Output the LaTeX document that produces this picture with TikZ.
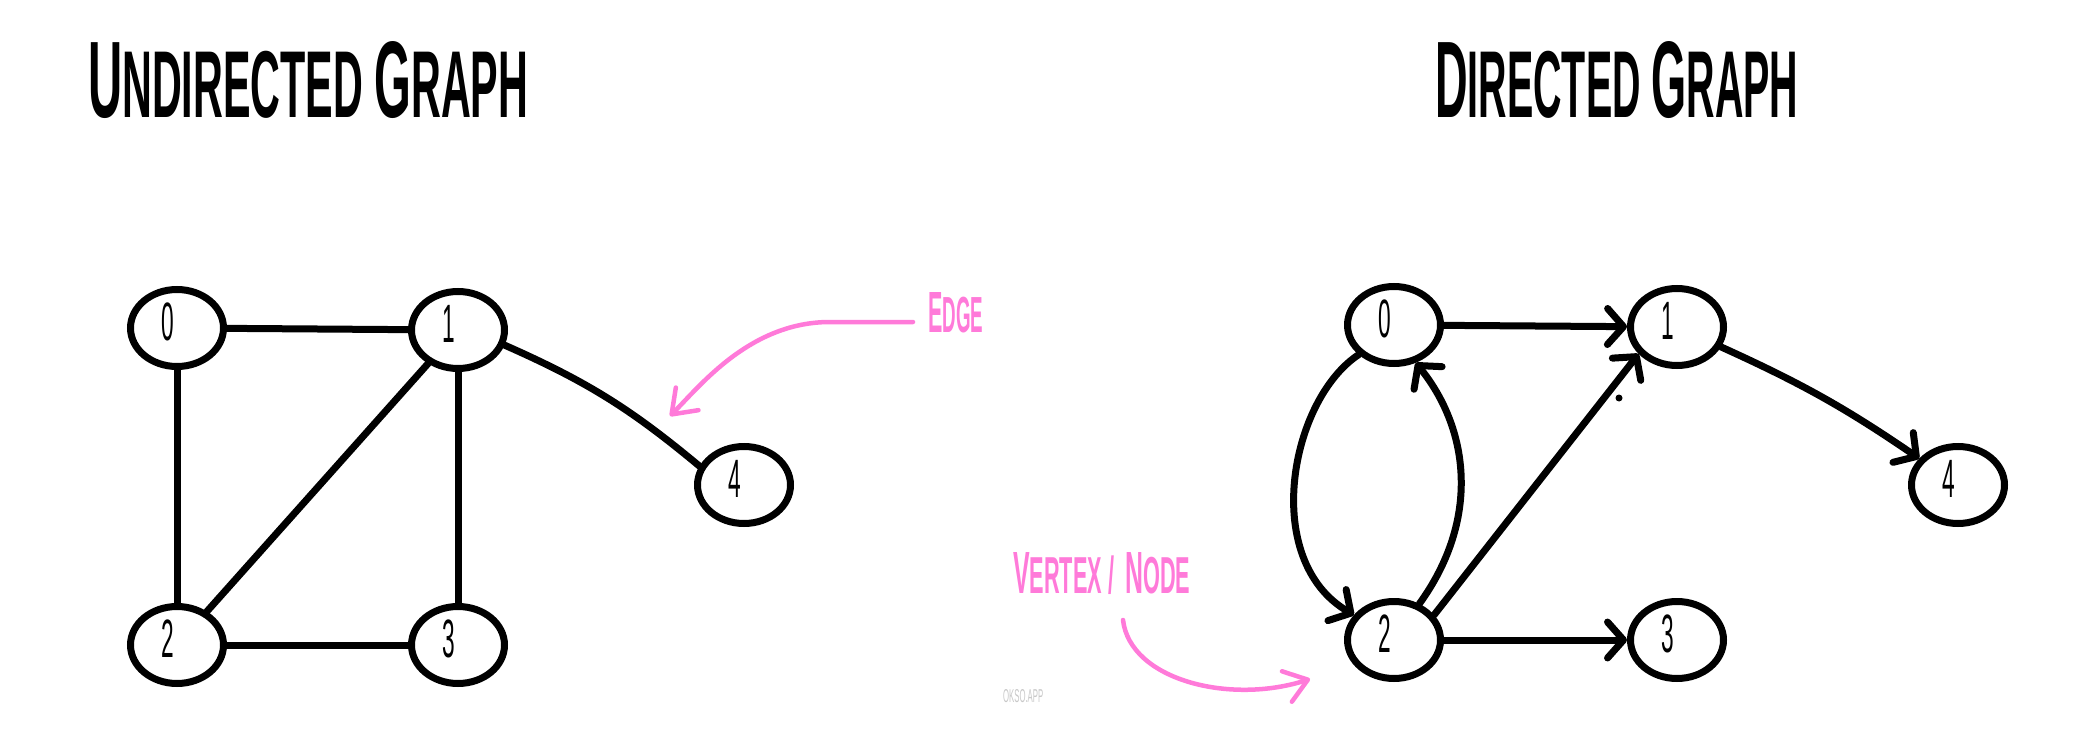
\documentclass[tikz,border=0pt]{standalone}
\usepackage{fontspec}
\setmainfont{Liberation Sans}
\usetikzlibrary{shapes.geometric,arrows.meta}
\definecolor{hlpink}{HTML}{FF7AD9}
\definecolor{wmgray}{HTML}{C8C8C8}
\newcommand\bigsm[2]{{\fontsize{110}{110}\selectfont #1}{\fontsize{96}{96}\selectfont #2}}
\newcommand\wgap[1]{\hspace*{#1pt}}
\newcommand\dgt[1]{\scalebox{0.42}[1]{\fontsize{54}{54}\selectfont #1}}
\tikzset{
  vtx/.style={ellipse, draw, line width=7pt, minimum width=93pt, minimum height=77pt, inner sep=0pt},
  lab/.style={shift={(-9,-6)}, inner sep=0pt},
  edge/.style={line width=7pt, line cap=round},
  arr/.style={edge, -{Straight Barb[length=16pt,width=36pt,round]}},
  parr/.style={draw=hlpink, line width=4.5pt, line cap=round, -{Straight Barb[length=22pt,width=32pt,round]}},
  ttl/.style={anchor=base west, inner sep=0pt},
}
\begin{document}
\begin{tikzpicture}[x=1pt,y=-1pt]
\useasboundingbox[fill=white] (0,0) rectangle (2089,733);

% titles
\node[ttl] (t1) at (88,118) {\resizebox{440pt}{76pt}{\bfseries\bigsm{U}{NDIRECTED}\wgap{26}\bigsm{G}{RAPH}}};
\node[ttl] (t2) at (1435,118) {\resizebox{363pt}{76pt}{\bfseries\bigsm{D}{IRECTED}\wgap{26}\bigsm{G}{RAPH}}};

% undirected graph
\node[vtx, label={[lab]center:\dgt{0}}] (u0) at (177,328) {};
\node[vtx, label={[lab]center:\dgt{1}}] (u1) at (458,330) {};
\node[vtx, label={[lab]center:\dgt{2}}] (u2) at (177,645) {};
\node[vtx, label={[lab]center:\dgt{3}}] (u3) at (458,645) {};
\node[vtx, label={[lab]center:\dgt{4}}] (u4) at (744,485) {};

\draw[edge] (u0) -- (u1);
\draw[edge] (u0) -- (u2);
\draw[edge] (u1) -- (u2);
\draw[edge] (u1) -- (u3);
\draw[edge] (u2) -- (u3);
\draw[edge] (u1.-18) to[bend left=8] (u4.157);

% directed graph
\node[vtx, label={[lab]center:\dgt{0}}] (d0) at (1394,325) {};
\node[vtx, label={[lab]center:\dgt{1}}] (d1) at (1677,327) {};
\node[vtx, label={[lab]center:\dgt{2}}] (d2) at (1394,640) {};
\node[vtx, label={[lab]center:\dgt{3}}] (d3) at (1677,640) {};
\node[vtx, label={[lab]center:\dgt{4}}] (d4) at (1958,485) {};

\draw[arr] (d0) -- (d1);
\draw[arr] (d1) to[bend left=5] (d4);
\draw[arr] (d2) -- (d3);
\draw[arr] (d2.32) -- (d1.215);
\draw[arr] (d2.55) .. controls (1480,520) and (1470,430) .. (d0.-60);
\draw[arr] (d0.220) .. controls (1290,400) and (1260,560) .. (d2.148);
\fill (1619,398) circle (3.5);

% annotations
\node[ttl, text=hlpink] (elbl) at (928,332) {\resizebox{55pt}{40pt}{\bfseries\bigsm{E}{DGE}}};
\coordinate (e0) at (913,322);
\coordinate (e1) at (670,416);
\draw[parr] (e0) -- (830,322) .. controls (750,322) and (700,386) .. (e1);

\node[ttl, text=hlpink] (vlbl) at (1013,593) {\resizebox{177pt}{41pt}{\bfseries\bigsm{V}{ERTEX}\wgap{30}{\fontsize{96}{96}\selectfont /}\wgap{45}\bigsm{N}{ODE}}};
\coordinate (v0) at (1123,620);
\coordinate (v1) at (1310,679);
\draw[parr] (v0) .. controls (1130,680) and (1230,705) .. (v1);

\node[ttl, text=wmgray] (wm) at (1003,702) {\resizebox{40pt}{13pt}{OKSO.APP}};
\end{tikzpicture}
\end{document}
